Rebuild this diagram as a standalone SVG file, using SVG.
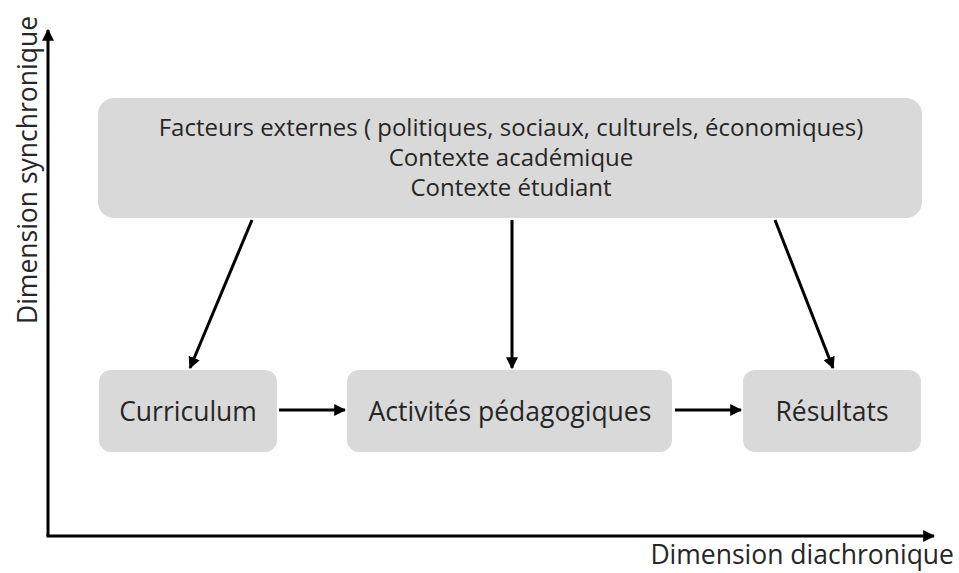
<svg xmlns="http://www.w3.org/2000/svg" width="959" height="573" viewBox="0 0 959 573">
  <style>
    .box { fill: #d9d9d9; }
    .lbl { font-family: "Open Sans", Lato, "Liberation Sans", sans-serif; fill: #262626; text-anchor: middle; }
    .top { font-size: 24px; }
    .mid { font-size: 26.5px; }
    .axis-lbl { font-family: "Open Sans", Lato, "Liberation Sans", sans-serif; fill: #262626; font-size: 26.5px; }
    .edge { stroke: #000; stroke-width: 3; fill: none; marker-end: url(#arrow); }
  </style>
  <defs>
    <marker id="arrow" viewBox="0 0 10 10" refX="9" refY="5" markerWidth="4" markerHeight="4" orient="auto" markerUnits="strokeWidth">
      <path d="M0,0 L10,5 L0,10 z" fill="#000"/>
    </marker>
  </defs>

  <rect width="959" height="573" fill="#fff"/>

  <!-- axes -->
  <g id="axes">
    <path class="edge" d="M48,536 L48,30"/>
    <path class="edge" d="M46.5,536 L934,536"/>
    <text class="axis-lbl" text-anchor="middle" transform="translate(37,170) rotate(-90)">Dimension synchronique</text>
    <text class="axis-lbl" x="954" y="564" text-anchor="end">Dimension diachronique</text>
  </g>

  <g id="contexte">
    <rect class="box" x="98" y="98" width="824" height="120" rx="16"/>
    <text class="lbl top" x="511" y="136">Facteurs externes ( politiques, sociaux, culturels, économiques)</text>
    <text class="lbl top" x="511" y="166">Contexte académique</text>
    <text class="lbl top" x="511" y="196">Contexte étudiant</text>
  </g>

  <g id="curriculum">
    <rect class="box" x="99" y="370" width="178" height="82" rx="12"/>
    <text class="lbl mid" x="188" y="421">Curriculum</text>
  </g>

  <g id="activites">
    <rect class="box" x="347" y="370" width="325" height="82" rx="12"/>
    <text class="lbl mid" x="510" y="421">Activités pédagogiques</text>
  </g>

  <g id="resultats">
    <rect class="box" x="743" y="370" width="178" height="82" rx="12"/>
    <text class="lbl mid" x="832" y="421">Résultats</text>
  </g>

  <g id="connectors">
    <path class="edge" d="M252,220 L190,368"/>
    <path class="edge" d="M512,220 L512,368"/>
    <path class="edge" d="M775,220 L833,368"/>
    <path class="edge" d="M279,410 L345,410"/>
    <path class="edge" d="M675,410 L741,410"/>
  </g>
</svg>
